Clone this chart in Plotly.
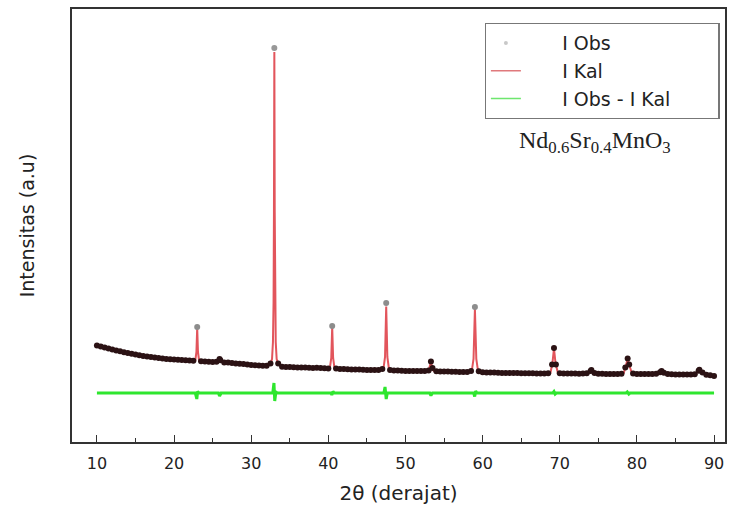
import numpy as np
import plotly.graph_objects as go

# ---- observed scan (step 0.5 deg, 10..90) ----
scan_2theta = np.arange(10.0, 90.01, 0.5)
obs_scan = [
    965, 955, 945, 935, 925, 916, 907, 898, 890, 882,
    875, 868, 861, 855, 850, 845, 840, 835, 831, 828,
    825, 822, 820, 817, 815, 813, 1150, 808, 805, 803,
    800, 803, 817, 796, 794, 790, 786, 782, 779, 775,
    771, 768, 765, 763, 762, 785, 3940, 785, 752, 750,
    749, 747, 746, 745, 744, 742, 741, 743, 740, 738,
    736, 1160, 734, 731, 730, 728, 726, 725, 724, 722,
    721, 720, 720, 719, 730, 1390, 720, 715, 714, 712,
    711, 710, 710, 709, 709, 709, 715, 740, 708, 706,
    705, 704, 703, 702, 701, 700, 700, 710, 1350, 708,
    697, 696, 695, 694, 692, 691, 690, 690, 689, 689,
    688, 688, 687, 687, 686, 686, 685, 687, 775, 775,
    688, 684, 684, 684, 684, 683, 684, 688, 710, 690,
    683, 682, 681, 681, 680, 680, 682, 745, 775, 685,
    680, 679, 679, 679, 679, 683, 698, 693, 680, 677,
    676, 676, 675, 675, 674, 677, 713, 695, 672, 667,
    660,
]
# extra observed points at the maxima of the small peaks
obs_peak_2theta = [25.9, 53.3, 69.25, 74.1, 78.8, 83.2, 88.1]
obs_peak_int = [830, 805, 940, 720, 835, 710, 722]

# ---- calculated profile ----
kal_2theta = [
    10, 11, 12, 13, 14, 15, 16, 17, 18, 19, 20, 21, 22,
    22.75, 22.9, 23.0, 23.1, 23.25, 24, 25, 25.6, 25.9, 26.2, 27, 28, 29, 30, 31, 32,
    32.5, 32.7, 32.82, 32.9, 32.95, 33.0, 33.05, 33.1, 33.18, 33.3, 33.5, 33.9,
    35, 36, 37, 38, 39, 40, 40.2, 40.38, 40.5, 40.62, 40.8,
    42, 43, 44, 45, 46, 47.15, 47.35, 47.5, 47.65, 47.85,
    48, 49, 50, 51, 52, 53.0, 53.15, 53.3, 53.45, 53.65,
    54, 55, 56, 57, 58, 58.6, 58.82, 59.0, 59.18, 59.4,
    60, 61, 62, 63, 64, 65, 66, 67, 68, 68.8, 69.05, 69.25, 69.45, 69.75,
    70.5, 71, 72, 73, 73.6, 74.1, 74.6, 75, 76, 77, 78,
    78.3, 78.55, 78.8, 79.05, 79.35, 80, 81, 82, 82.6, 83.2, 83.8,
    84, 85, 86, 87, 87.5, 87.85, 88.1, 88.4, 88.8, 89, 90,
]
kal_int = [
    965, 945, 925, 907, 890, 875, 861, 850, 840, 831, 825, 820, 815,
    813, 900, 1140, 900, 810, 805, 800, 805, 825, 800, 794, 786, 779, 771, 765, 762,
    785, 830, 1000, 1400, 2300, 3900, 2300, 1400, 1000, 830, 785, 755,
    749, 746, 744, 741, 740, 736, 740, 840, 1150, 840, 738,
    730, 726, 724, 721, 720, 735, 850, 1355, 850, 735,
    720, 714, 711, 710, 709, 715, 750, 800, 750, 712,
    708, 705, 703, 701, 700, 712, 830, 1330, 830, 712,
    697, 695, 692, 690, 689, 688, 687, 686, 685, 695, 790, 935, 790, 693,
    684, 684, 684, 684, 686, 716, 686, 683, 681, 680, 682,
    690, 760, 830, 760, 688, 680, 679, 679, 681, 706, 680,
    680, 676, 675, 674, 677, 705, 718, 703, 672, 672, 660,
]

# ---- difference curve (offset) ----
diff_2theta = [10, 22.75, 22.95, 23.05, 23.25, 25.75, 25.9, 26.1,
               32.8, 32.95, 33.05, 33.2, 33.4, 40.35, 40.45, 40.6, 40.75,
               47.2, 47.35, 47.5, 47.65, 53.15, 53.3, 53.5,
               58.85, 58.97, 59.1, 59.25, 69.1, 69.25, 69.4, 69.55,
               78.6, 78.75, 78.95, 79.1, 90]
diff_int = [490, 490, 430, 505, 490, 490, 460, 490,
            490, 590, 410, 500, 490, 490, 470, 505, 490,
            490, 550, 430, 492, 490, 465, 490,
            490, 455, 510, 490, 490, 505, 480, 490,
            490, 500, 480, 490, 490]

obs_x = list(scan_2theta) + obs_peak_2theta
obs_y = obs_scan + obs_peak_int

fig = go.Figure()
fig.add_trace(go.Scatter(x=kal_2theta, y=kal_int, mode="lines", name="I Kal",
                         line=dict(color="#e2555c", width=2), showlegend=False))
fig.add_trace(go.Scatter(x=diff_2theta, y=diff_int, mode="lines", name="I Obs - I Kal",
                         line=dict(color="#2ee62e", width=3), showlegend=False))
# observed points: dense dark band, the highest maxima appear grey
fig.add_trace(go.Scatter(x=obs_x, y=obs_y, mode="markers", name="I Obs", showlegend=False,
                         marker=dict(size=6, line=dict(width=0), color=obs_y,
                                     cmin=0, cmax=4330,
                                     colorscale=[[0, "#2b1214"], [0.245, "#2b1214"],
                                                 [0.255, "#8c8c8c"], [1, "#9a9a9a"]],
                                     showscale=False)))

# legend entries
pad = "\u00a0" * 6
tail = "\u00a0" * 7
fig.add_trace(go.Scatter(x=[None], y=[None], mode="markers", name=pad + "I Obs",
                         marker=dict(color="#c8c8c8", size=4)))
fig.add_trace(go.Scatter(x=[None], y=[None], mode="lines", name=pad + "I Kal",
                         line=dict(color="#e0797c", width=1.5)))
fig.add_trace(go.Scatter(x=[None], y=[None], mode="lines", name=pad + "I Obs - I Kal" + tail,
                         line=dict(color="#6ee66e", width=1.5)))

fig.add_annotation(text="Nd<sub>0.6</sub>Sr<sub>0.4</sub>MnO<sub>3</sub>",
                   x=0.801, y=0.693, xref="paper", yref="paper", showarrow=False,
                   xanchor="center", yanchor="middle",
                   font=dict(family="Liberation Serif", size=24, color="#222"))

fig.update_layout(
    width=734, height=511,
    margin=dict(l=72, r=7, t=9, b=69),
    paper_bgcolor="white", plot_bgcolor="white",
    font=dict(family="DejaVu Sans", color="#222"),
    legend=dict(x=0.632, y=0.9677, xanchor="left", yanchor="top",
                bordercolor="#777", borderwidth=1.2, bgcolor="white",
                font=dict(size=19), tracegroupgap=0),
)
fig.update_xaxes(range=[6.77, 91.42], showgrid=False, zeroline=False,
                 tickmode="array", tickvals=[10, 20, 30, 40, 50, 60, 70, 80, 90],
                 ticks="inside", ticklen=7, tickwidth=1.3, tickcolor="#333",
                 minor=dict(ticks="inside", tickvals=[15, 25, 35, 45, 55, 65, 75, 85],
                            ticklen=4, tickcolor="#333"),
                 showline=True, linecolor="#333", linewidth=1.8, mirror=True,
                 tickfont=dict(size=16), ticklabelstandoff=6,
                 title=dict(text="2θ (derajat)", font=dict(size=20), standoff=14))
fig.update_yaxes(range=[0, 4330], showgrid=False, zeroline=False,
                 showticklabels=False, ticks="",
                 showline=True, linecolor="#333", linewidth=1.8, mirror=True,
                 title=dict(text="Intensitas (a.u)", font=dict(size=19), standoff=30))

fig.write_html("out.html")
